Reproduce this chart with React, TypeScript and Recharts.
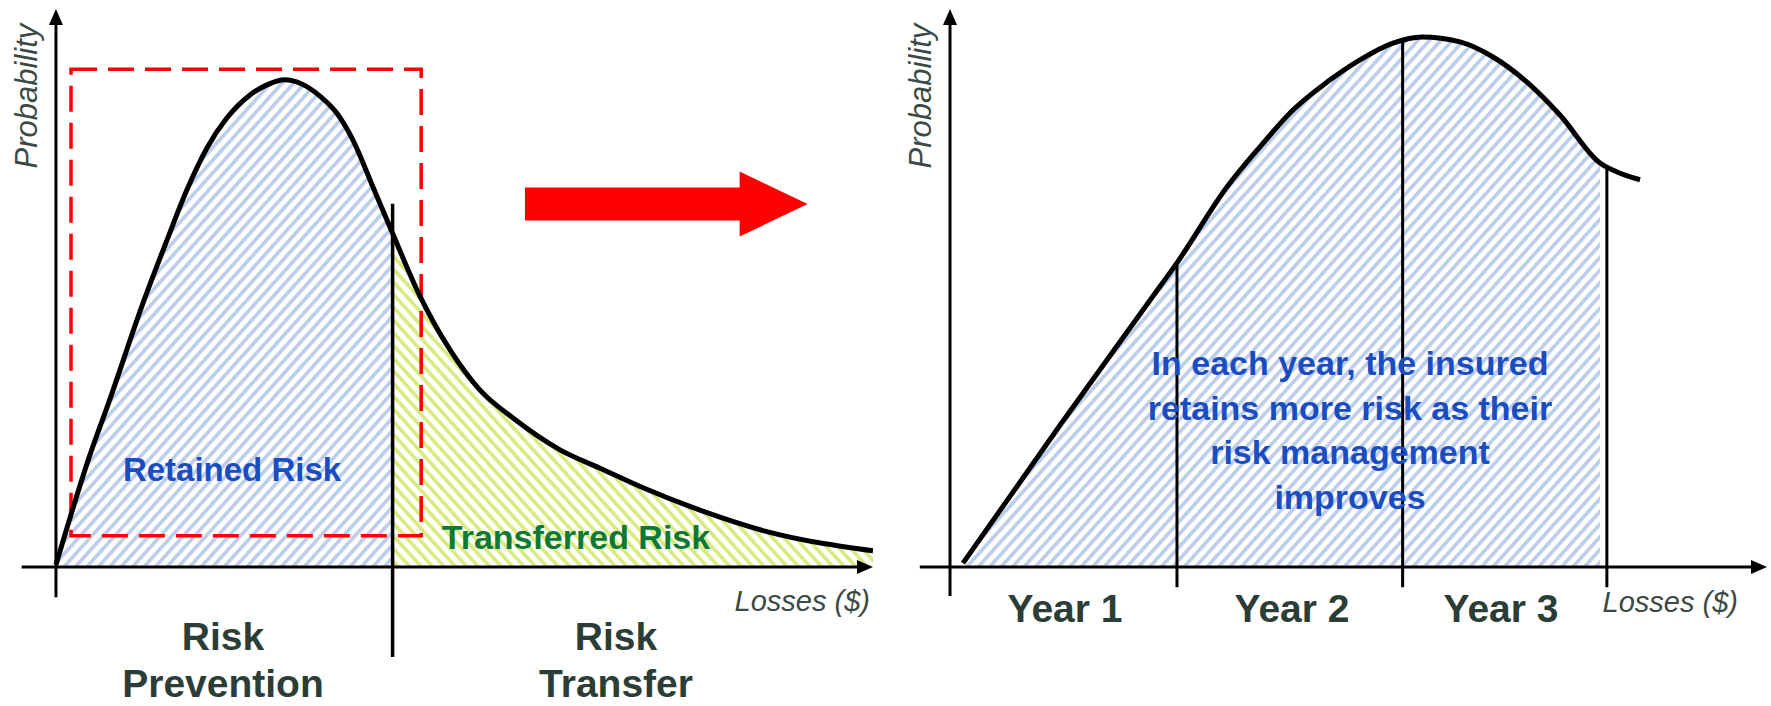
import React from "react";
import {
  ComposedChart,
  Area,
  Line,
  XAxis,
  YAxis,
  ReferenceLine,
  ReferenceArea,
} from "recharts";

// Left panel: loss distribution split into retained / transferred risk
const leftLosses = [0, 4.16, 6.49, 10.65, 13.59, 16.03, 18.48, 20.93, 23.75, 25.83, 28.03, 29.87, 32.31, 34.39, 36.35, 38.8, 41.2, 44.43, 48.23, 51.9, 55.94, 61.69, 66.59, 71.85, 78.82, 87.15, 100];
const leftProb = [0.4, 20.1, 29.6, 47.3, 58.6, 67.6, 75.1, 80.5, 84.6, 86.4, 87.3, 86.7, 84.4, 81.3, 76.5, 68.1, 59.8, 48.9, 38.9, 31.7, 26.7, 21.0, 17.7, 14.2, 10.2, 6.3, 2.9];
const leftSplit = 41.2;
const leftSplitTop = 65.1;
const leftSplitBottom = -16.1;
const retentionBox = { x1: 1.84, x2: 44.7, y1: 5.6, y2: 89.2 };

// Right panel: distribution over three years
const rightLosses = [1.59, 13.46, 24.48, 27.78, 33.9, 37.94, 41.98, 46.14, 50.18, 54.22, 57.77, 62.42, 66.46, 70.62, 74.66, 79.56, 81.64, 84.46];
const rightProb = [0.7, 25.4, 47.8, 54.5, 68.1, 75.3, 81.9, 86.9, 90.9, 93.9, 95.0, 94.1, 91.4, 86.9, 81.0, 72.4, 70.8, 69.4];
const rightFillEnd = 79.56;
const yearSplits = [27.78, 55.4, 80.4];
const yearSplitTops = [54.5, 94.3, 71.8];
const yearSplitBottom = -3.6;
const yearLabels = ["Year 1", "Year 2", "Year 3"];

const noteLines = [
  "In each year, the insured",
  "retains more risk as their",
  "risk management",
  "improves",
];

const leftRows = leftLosses.map((x, i) => ({
  x,
  curve: leftProb[i],
  retained: x <= leftSplit ? leftProb[i] : null,
  transferred: x >= leftSplit ? leftProb[i] : null,
}));

const rightRows = rightLosses.map((x, i) => ({
  x,
  curve: rightProb[i],
  retained: x <= rightFillEnd ? rightProb[i] : null,
}));

const Y_DOMAIN: [number, number] = [-24.9, 100];
const FONT = "'Liberation Sans', Arial, sans-serif";
const DARK = "#2b3d37";
const BLUE = "#1a4cc2";
const GREEN = "#0c7a36";
const LABEL = "#3b4a46";

function AxisArrow(props: any) {
  const { x1, y1, x2, y2 } = props;
  const dx = x2 - x1;
  const dy = y2 - y1;
  const len = Math.hypot(dx, dy) || 1;
  const ux = dx / len;
  const uy = dy / len;
  const L = 16;
  const W = 7;
  const bx = x2 - ux * L;
  const by = y2 - uy * L;
  return (
    <g>
      <line x1={x1} y1={y1} x2={bx + ux * 2} y2={by + uy * 2} stroke="#000" strokeWidth={3} />
      <polygon
        points={`${x2},${y2} ${bx - uy * W},${by + ux * W} ${bx + uy * W},${by - ux * W}`}
        fill="#000"
      />
    </g>
  );
}

function BlockArrow(props: any) {
  const { x1, y1, x2 } = props;
  const head = 68;
  const shaft = 16.5;
  const wing = 32.5;
  const hx = x2 - head;
  return (
    <polygon
      points={`${x1},${y1 - shaft} ${hx},${y1 - shaft} ${hx},${y1 - wing} ${x2},${y1} ${hx},${y1 + wing} ${hx},${y1 + shaft} ${x1},${y1 + shaft}`}
      fill="#ff0000"
    />
  );
}

function Patterns() {
  return (
    <defs>
      <pattern id="blueHatch" patternUnits="userSpaceOnUse" width={8.5} height={8.5} patternTransform="rotate(42)">
        <rect x={0} y={0} width={3.6} height={8.5} fill="#bccdea" />
      </pattern>
      <pattern id="greenHatch" patternUnits="userSpaceOnUse" width={8.5} height={8.5} patternTransform="rotate(-42)">
        <rect x={0} y={0} width={3.6} height={8.5} fill="#dbea7c" />
      </pattern>
    </defs>
  );
}

const overlay: React.CSSProperties = { position: "absolute", left: 0, top: 0, pointerEvents: "none" };

function LeftPanel() {
  return (
    <div style={{ position: "absolute", left: 0, top: 0, width: 880, height: 706 }}>
      <ComposedChart width={880} height={706} data={leftRows} margin={{ top: 9, right: 7, left: 0, bottom: 0 }}>
        <Patterns />
        <XAxis dataKey="x" type="number" domain={[-6.85, 100]} hide allowDataOverflow />
        <YAxis type="number" domain={Y_DOMAIN} hide allowDataOverflow />
        <Area dataKey="retained" type="monotone" fill="url(#blueHatch)" fillOpacity={1} stroke="none" baseValue={0} isAnimationActive={false} />
        <Area dataKey="transferred" type="monotone" fill="url(#greenHatch)" fillOpacity={1} stroke="none" baseValue={0} isAnimationActive={false} />
        <ReferenceArea
          x1={retentionBox.x1}
          x2={retentionBox.x2}
          y1={retentionBox.y1}
          y2={retentionBox.y2}
          fill="none"
          stroke="#ff0000"
          strokeWidth={3.5}
          strokeDasharray="26 11"
        />
        <Line dataKey="curve" type="monotone" stroke="#000" strokeWidth={5} dot={false} isAnimationActive={false} />
        <ReferenceLine segment={[{ x: -4.2, y: 0 }, { x: 100, y: 0 }]} shape={(p: any) => <AxisArrow {...p} />} />
        <ReferenceLine segment={[{ x: 0, y: -5.4 }, { x: 0, y: 100 }]} shape={(p: any) => <AxisArrow {...p} />} />
        <ReferenceLine
          segment={[{ x: leftSplit, y: leftSplitBottom }, { x: leftSplit, y: leftSplitTop }]}
          stroke="#000"
          strokeWidth={3.5}
        />
        <ReferenceLine segment={[{ x: 57.4, y: 65.05 }, { x: 92.0, y: 65.05 }]} shape={(p: any) => <BlockArrow {...p} />} />
      </ComposedChart>
      <svg width={880} height={706} style={overlay}>
        <text transform="translate(37,96) rotate(-90)" textAnchor="middle" fontFamily={FONT} fontStyle="italic" fontSize={31} fill={LABEL}>
          Probability
        </text>
        <text x={232} y={481} textAnchor="middle" fontFamily={FONT} fontWeight="bold" fontSize={33} fill={BLUE}>
          Retained Risk
        </text>
        <text x={576} y={549} textAnchor="middle" fontFamily={FONT} fontWeight="bold" fontSize={34} fill={GREEN}>
          Transferred Risk
        </text>
        <text x={870} y={611} textAnchor="end" fontFamily={FONT} fontStyle="italic" fontSize={29} fill={LABEL}>
          Losses ($)
        </text>
        <text x={223} y={650} textAnchor="middle" fontFamily={FONT} fontWeight="bold" fontSize={39} fill={DARK}>
          Risk
        </text>
        <text x={223} y={697} textAnchor="middle" fontFamily={FONT} fontWeight="bold" fontSize={39} fill={DARK}>
          Prevention
        </text>
        <text x={616} y={650} textAnchor="middle" fontFamily={FONT} fontWeight="bold" fontSize={39} fill={DARK}>
          Risk
        </text>
        <text x={616} y={697} textAnchor="middle" fontFamily={FONT} fontWeight="bold" fontSize={39} fill={DARK}>
          Transfer
        </text>
      </svg>
    </div>
  );
}

function RightPanel() {
  const labelX = [185, 412, 621];
  return (
    <div style={{ position: "absolute", left: 880, top: 0, width: 891, height: 706 }}>
      <ComposedChart width={891} height={706} data={rightRows} margin={{ top: 9, right: 4, left: 0, bottom: 0 }}>
        <Patterns />
        <XAxis dataKey="x" type="number" domain={[-8.57, 100]} hide allowDataOverflow />
        <YAxis type="number" domain={Y_DOMAIN} hide allowDataOverflow />
        <Area dataKey="retained" type="monotone" fill="url(#blueHatch)" fillOpacity={1} stroke="none" baseValue={0} isAnimationActive={false} />
        <Line dataKey="curve" type="monotone" stroke="#000" strokeWidth={5} dot={false} isAnimationActive={false} />
        <ReferenceLine segment={[{ x: -3.7, y: 0 }, { x: 100, y: 0 }]} shape={(p: any) => <AxisArrow {...p} />} />
        <ReferenceLine segment={[{ x: 0, y: -5.2 }, { x: 0, y: 100 }]} shape={(p: any) => <AxisArrow {...p} />} />
        {yearSplits.map((x, i) => (
          <ReferenceLine
            key={x}
            segment={[{ x, y: yearSplitBottom }, { x, y: yearSplitTops[i] }]}
            stroke="#000"
            strokeWidth={3}
          />
        ))}
      </ComposedChart>
      <svg width={891} height={706} style={overlay}>
        <text transform="translate(51,96) rotate(-90)" textAnchor="middle" fontFamily={FONT} fontStyle="italic" fontSize={31} fill={LABEL}>
          Probability
        </text>
        {noteLines.map((t, i) => (
          <text key={t} x={470} y={375 + i * 44.7} textAnchor="middle" fontFamily={FONT} fontWeight="bold" fontSize={34} fill={BLUE}>
            {t}
          </text>
        ))}
        {yearLabels.map((t, i) => (
          <text key={t} x={labelX[i]} y={622} textAnchor="middle" fontFamily={FONT} fontWeight="bold" fontSize={39} fill={DARK}>
            {t}
          </text>
        ))}
        <text x={858} y={612} textAnchor="end" fontFamily={FONT} fontStyle="italic" fontSize={29} fill={LABEL}>
          Losses ($)
        </text>
      </svg>
    </div>
  );
}

export default function App() {
  return (
    <div style={{ position: "fixed", left: 0, top: 0, width: 1771, height: 706, background: "#fff" }}>
      <LeftPanel />
      <RightPanel />
    </div>
  );
}
